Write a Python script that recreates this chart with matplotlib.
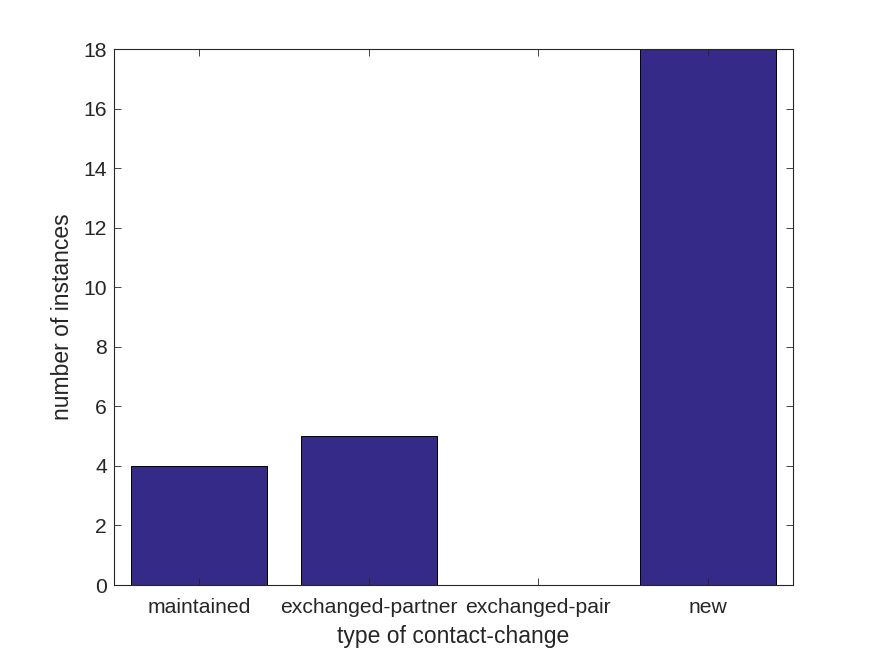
import matplotlib
matplotlib.use("Agg")
import matplotlib.pyplot as plt

categories = ["maintained", "exchanged-partner", "exchanged-pair", "new"]
counts = [4, 5, 0, 18]

plt.rcParams['font.family'] = ['Liberation Sans', 'DejaVu Sans']
gray = (0.15, 0.15, 0.15)

fig = plt.figure(figsize=(8.75, 6.56), dpi=100)
ax = fig.add_axes([0.1303, 0.1082, 0.776, 0.8171])
x = list(range(1, len(categories) + 1))
ax.bar(x, counts, width=0.8, color=(0.2081, 0.1663, 0.5292), edgecolor='black', linewidth=0.7, zorder=1)
ax.set_xlim(0.5, 4.5)
ax.set_ylim(0, 18)
ax.set_xticks(x)
ax.set_xticklabels(categories)
ax.set_yticks(range(0, 19, 2))
ax.tick_params(direction='in', length=4.9, width=0.6, colors=gray, labelsize=15.2,
               top=True, right=True)
ax.tick_params(axis='x', pad=9)
ax.tick_params(axis='y', pad=5)
for s in ax.spines.values():
    s.set_color(gray)
    s.set_linewidth(0.8)
    s.set_zorder(3)
ax.set_xlabel("type of contact-change", fontsize=16.5, color=gray, labelpad=6)
ax.set_ylabel("number of instances", fontsize=16.5, color=gray, labelpad=7)
fig.savefig("out.png", dpi=100)
